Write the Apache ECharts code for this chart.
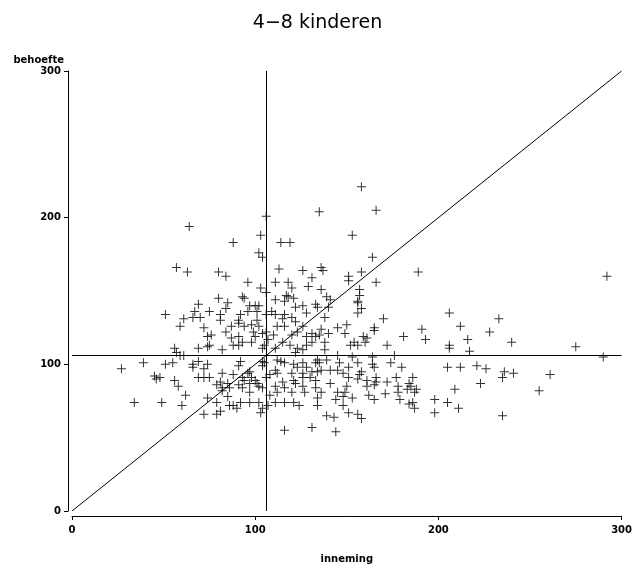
<!DOCTYPE html>
<html>
<head>
<meta charset="utf-8">
<script src="https://cdn.jsdelivr.net/npm/echarts@6/dist/echarts.min.js"></script>
<style>html,body{margin:0;padding:0;background:#fff}#c{width:635px;height:569px}</style>
</head>
<body>
<div id="c"></div>
<script>
const titleText = '4\u22128 kinderen';
const xName = 'inneming';
const yName = 'behoefte';
const tickValues = [0, 100, 200, 300];
const meanInneming = 106;
const meanBehoefte = 106;
const diagonal = [[0, 0], [300, 300]];

const inneming = [
64,88,103,106,102,104,114,119,135,153,158,166,164,
57,63,69,67,51,66,70,61,59,72,
80,84,113,126,96,103,106,111,118,120,80,85,93,94,111,117,118,116,121,122,126,84,75,81,81,97,100,102,96,101,106,109,111,116,115,120,92,91,87,91,94,98,101,102,112,116,122,126,
136,137,131,129,151,151,158,166,136,139,141,133,134,140,157,157,156,156,158,156,128,138,170,145,150,165,136,
56,57,69,61,59,39,51,55,66,66,69,27,45,48,46,56,58,69,72,72,
74,76,84,87,91,99,100,98,104,106,110,107,120,123,
74,75,82,91,93,88,104,105,111,115,119,122,126,123,
104,105,104,92,91,112,114,116,121,123,126,74,75,82,85,81,79,82,86,88,96,97,98,100,101,106,108,111,112,111,115,120,121,126,126,122,126,91,93,97,102,104,94,93,116,
128,131,133,135,140,131,128,138,138,149,159,161,160,152,154,156,165,172,181,145,153,164,176,134,139,135,133,128,131,134,136,141,145,146,151,156,158,164,165,174,130,133,141,148,151,156,157,161,166,166,165,172,177,178,150,161,133,
34,49,60,62,74,72,79,79,81,85,86,88,90,92,97,97,82,
108,102,104,103,107,111,112,116,120,121,124,127,134,134,136,145,148,148,153,144,149,162,165,171,178,179,139,143,151,156,158,116,131,144,
189,206,212,233,191,193,228,216,206,206,217,240,180,205,212,221,226,236,241,235,223,186,184,185,183,188,187,186,184,187,198,205,209,211,198,235,
292,275,290,261,255
];
const behoefte = [
194,183,188,201,176,173,183,183,204,188,221,205,173,
166,163,141,136,134,132,132,131,126,125,
163,160,165,164,156,152,149,156,156,152,145,142,146,145,144,147,146,143,145,139,140,138,136,134,130,140,140,140,136,136,134,136,134,134,131,132,134,130,126,128,126,127,130,126,126,126,129,126,
166,164,159,153,160,157,163,156,151,146,144,141,139,139,151,147,143,142,138,135,135,132,131,125,127,125,124,
111,108,111,106,106,101,100,101,100,98,102,97,92,91,90,89,85,91,91,97,
119,120,122,118,119,122,119,115,121,122,120,117,120,122,
112,113,110,113,115,113,111,113,111,115,113,108,110,111,
102,101,99,102,99,103,102,101,100,98,101,100,91,94,87,88,86,84,84,93,94,95,91,89,87,91,93,96,94,85,88,94,89,94,91,87,85,86,84,87,85,84,89,91,84,
119,121,119,120,121,115,113,115,110,121,119,118,115,113,115,113,123,113,119,106,105,105,106,103,103,101,101,98,95,95,96,96,96,101,98,101,95,100,98,101,91,89,87,94,91,90,93,89,91,88,86,88,91,85,85,85,84,
74,74,72,79,77,66,74,66,68,78,72,72,70,74,81,74,82,
79,74,70,67,72,74,81,74,81,74,72,81,77,72,81,81,78,72,77,76,81,79,76,80,81,76,65,64,67,66,63,55,57,54,
163,135,126,131,124,117,122,117,113,111,109,115,98,98,98,99,97,95,94,91,87,91,87,85,83,83,81,74,73,70,76,74,83,70,67,65,
160,112,105,93,82
];

const points = inneming.map((x, i) => [x, behoefte[i]]);

const plusPath = 'path://M4,0H5V4H9V5H5V9H4V5H0V4H4Z';
const fontFamily = 'DejaVu Sans';

const chart = echarts.init(document.getElementById('c'), null, {renderer: 'canvas'});
chart.setOption({
  animation: false,
  backgroundColor: '#fff',
  title: {
    text: titleText,
    left: 'center',
    top: 9,
    textStyle: {fontSize: 19, fontWeight: 'normal', fontFamily: fontFamily, color: '#000'}
  },
  grid: {left: 72, right: 13, top: 71, bottom: 58},
  xAxis: {
    type: 'value', min: 0, max: 300, interval: 100, offset: 5,
    name: xName, nameLocation: 'middle', nameGap: 38,
    nameTextStyle: {fontSize: 10, fontWeight: 'bold', fontFamily: fontFamily, color: '#000'},
    axisLine: {show: true, onZero: false, lineStyle: {color: '#000', width: 1}},
    axisTick: {show: true, length: 4, lineStyle: {color: '#000'}},
    axisLabel: {fontSize: 10, fontWeight: 'bold', fontFamily: fontFamily, color: '#000', margin: 9,
      formatter: v => tickValues.includes(v) ? String(v) : ''},
    splitLine: {show: false}
  },
  yAxis: {
    type: 'value', min: 0, max: 300, interval: 100, offset: 4,
    name: yName, nameLocation: 'end', nameGap: 6,
    nameTextStyle: {fontSize: 10, fontWeight: 'bold', fontFamily: fontFamily, color: '#000', align: 'right', verticalAlign: 'bottom', padding: [0, 4, 0, 0]},
    axisLine: {show: true, onZero: false, lineStyle: {color: '#000', width: 1}},
    axisTick: {show: true, length: 4, lineStyle: {color: '#000'}},
    axisLabel: {fontSize: 10, fontWeight: 'bold', fontFamily: fontFamily, color: '#000', margin: 7,
      formatter: v => tickValues.includes(v) ? String(v) : ''},
    splitLine: {show: false}
  },
  series: [
    {
      type: 'line', data: diagonal, showSymbol: false, silent: true,
      lineStyle: {color: '#000', width: 1}
    },
    {
      type: 'scatter', data: points, symbol: plusPath, symbolSize: 9,
      itemStyle: {color: '#000'}, silent: true,
      markLine: {
        symbol: 'none', silent: true, animation: false,
        label: {show: false},
        lineStyle: {color: '#000', width: 1, type: 'solid'},
        data: [{xAxis: meanInneming}, {yAxis: meanBehoefte}]
      }
    }
  ]
});
</script>
</body>
</html>
